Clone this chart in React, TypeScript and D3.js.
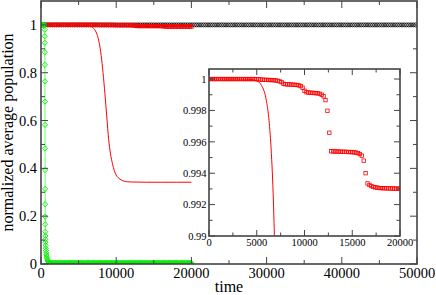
import React from 'react';
import * as d3 from 'd3';

// ---------- data ----------
const mainXTicks = [0, 10000, 20000, 30000, 40000, 50000];
const mainXMinor = [5000, 15000, 25000, 35000, 45000];
const mainYTicks = [0, 0.2, 0.4, 0.6, 0.8, 1];
const mainYLabels = ['0', '0.2', '0.4', '0.6', '0.8', '1'];
const mainYMinor = [0.1, 0.3, 0.5, 0.7, 0.9];
const insetXTicks = [0, 5000, 10000, 15000, 20000];
const insetXMinor = [2500, 7500, 12500, 17500];
const insetYTicks = [0.99, 0.992, 0.994, 0.996, 0.998, 1];
const insetYLabels = ['0.99', '0.992', '0.994', '0.996', '0.998', '1'];
const insetYMinor = [0.991, 0.993, 0.995, 0.997, 0.999];

// black circles: population stays at 1 over the whole run
const blackTimes = d3.range(0, 50001, 300);
const blackValue = 1;

// red line (smooth drop)
const redLineT = [0, 2000, 4000, 5000, 5500, 6000, 6250, 6500, 6750, 7000, 7250, 7500, 7750, 8000, 8250, 8500, 8750, 9000, 9250, 9500, 9750, 10000, 10500, 11000, 11500, 12000, 14000, 16000, 18000, 20000];
const redLineV = [1, 1, 0.99999, 0.99988, 0.99959, 0.99865, 0.99757, 0.9956, 0.9921, 0.9857, 0.9746, 0.9553, 0.9233, 0.8728, 0.8006, 0.712, 0.615, 0.52, 0.46, 0.42, 0.39, 0.372, 0.355, 0.347, 0.344, 0.343, 0.342, 0.342, 0.342, 0.342];

// red squares, every 200 time units from 0 to 20000
const redSqT = d3.range(0, 20001, 200);
const redSqV = [
  1, 1, 1, 1, 1, 1, 1, 1, 1, 1, 1, 1, 1, 1, 1, 1, 1, 1, 1, 1, 1, 1, 1, 1, 1,
  0.99999, 0.99998, 0.99997, 0.99996, 0.99995, 0.99995, 0.99994, 0.99994, 0.99993, 0.99993,
  0.99991, 0.99989, 0.99985, 0.9998, 0.9997, 0.99967, 0.99966, 0.99966, 0.99965, 0.99964,
  0.99963, 0.99962, 0.9996, 0.99955, 0.99945, 0.99925, 0.99916, 0.99914, 0.99913, 0.99912,
  0.99911, 0.9991, 0.99909, 0.99906, 0.999, 0.9989, 0.99866, 0.99798, 0.99658, 0.9954,
  0.99539, 0.99539, 0.99538, 0.99538, 0.99537, 0.99537, 0.99536, 0.99536, 0.99535, 0.99535,
  0.99534, 0.99533, 0.99531, 0.99528, 0.99522, 0.99512, 0.9948, 0.994, 0.99335, 0.99325,
  0.99318, 0.99313, 0.9931, 0.99308, 0.99306, 0.99305, 0.99305, 0.99304, 0.99304, 0.99303,
  0.99303, 0.99303, 0.99302, 0.99302, 0.99302, 0.99302,
];

// green diamonds: fast collapse
const greenHeadT = [0, 100, 200, 300, 400, 480, 500, 505, 510, 515, 520, 525, 530, 535, 540, 545, 550, 555, 560, 565, 570, 580, 590, 600, 620, 640, 660, 690, 720, 760, 800, 850, 900, 950];
const greenHeadV = [1, 1, 1, 1, 1, 1, 0.98, 0.953, 0.925, 0.886, 0.833, 0.764, 0.679, 0.582, 0.484, 0.393, 0.314, 0.25, 0.198, 0.166, 0.135, 0.117, 0.103, 0.091, 0.078, 0.066, 0.056, 0.046, 0.038, 0.03, 0.024, 0.018, 0.013, 0.009];
const greenTailT = d3.range(1000, 20001, 100);
const greenTailValue = 0.004;

// ---------- layout ----------
const W = 436, H = 295;
const M = { left: 41, right: 417, top: 1, bottom: 264 };
const IN = { left: 209, right: 400, top: 69, bottom: 236 };
const FONT = "'Liberation Serif', 'Times New Roman', serif";
const AX = '#444';
const ts = (size: number) => ({ fontFamily: FONT, fontSize: size + 'px', fill: '#000' });

export default function App() {
  const x = d3.scaleLinear().domain([0, 50000]).range([M.left, M.right]);
  const y = d3.scaleLinear().domain([0, 1.1]).range([M.bottom, M.top]);
  const xi = d3.scaleLinear().domain([0, 20000]).range([IN.left, IN.right]);
  const yi = d3.scaleLinear().domain([0.99, 1.00064]).range([IN.bottom, IN.top]);

  const greenT = [...greenHeadT, ...greenTailT];
  const greenV = [...greenHeadV, ...greenTailT.map(() => greenTailValue)];

  const lineMain = d3.line<number>().x((_, i) => x(redLineT[i])).y((d) => y(d)).curve(d3.curveMonotoneX);
  const lineInset = d3.line<number>().x((_, i) => xi(redLineT[i])).y((d) => yi(d)).curve(d3.curveMonotoneX);
  const greenLine = d3.line<number>().x((_, i) => x(greenT[i])).y((d) => y(d));

  const sq = 3.4;
  const dia = 2.6;
  const diamond = (cx: number, cy: number) => `M${cx},${cy - dia}L${cx + dia},${cy}L${cx},${cy + dia}L${cx - dia},${cy}Z`;

  return (
    <svg width={W} height={H} style={{ position: 'absolute', left: 0, top: 0, background: '#fff' }}>
      <defs>
        <clipPath id="mainClip"><rect x={M.left} y={M.top} width={M.right - M.left} height={M.bottom - M.top} /></clipPath>
        <clipPath id="insetClip"><rect x={IN.left} y={IN.top} width={IN.right - IN.left} height={IN.bottom - IN.top} /></clipPath>
      </defs>
      <rect x={0} y={0} width={W} height={H} fill="#fff" />

      {/* main data */}
      <g clipPath="url(#mainClip)">
        {blackTimes.map((t, i) => (
          <circle key={'b' + i} cx={x(t)} cy={y(blackValue)} r={2} fill="none" stroke="#000" strokeWidth={0.8} />
        ))}
        {redSqT.map((t, i) => (
          <rect key={'r' + i} x={x(t) - sq / 2} y={y(redSqV[i]) - sq / 2} width={sq} height={sq} fill="none" stroke="#ff0000" strokeWidth={0.8} />
        ))}
        <path d={lineMain(redLineV) || ''} fill="none" stroke="#ff0000" strokeWidth={1} />
        <path d={greenLine(greenV) || ''} fill="none" stroke="#66ff66" strokeWidth={1} />
        {greenT.map((t, i) => (
          <path key={'g' + i} d={diamond(x(t), y(greenV[i]))} fill="none" stroke="#00ee00" strokeWidth={0.9} />
        ))}
      </g>

      {/* main frame and ticks */}
      <rect x={M.left} y={M.top} width={M.right - M.left} height={M.bottom - M.top} fill="none" stroke={AX} strokeWidth={1.6} />
      {mainXTicks.map((t) => (
        <g key={'mxt' + t}>
          <line x1={x(t)} x2={x(t)} y1={M.bottom} y2={M.bottom - 7} stroke={AX} strokeWidth={1} />
          <line x1={x(t)} x2={x(t)} y1={M.top} y2={M.top + 7} stroke={AX} strokeWidth={1} />
          <text x={x(t)} y={278} style={ts(14.5)} textAnchor="middle">{String(t)}</text>
        </g>
      ))}
      {mainXMinor.map((t) => (
        <g key={'mxm' + t}>
          <line x1={x(t)} x2={x(t)} y1={M.bottom} y2={M.bottom - 4} stroke={AX} strokeWidth={1} />
          <line x1={x(t)} x2={x(t)} y1={M.top} y2={M.top + 4} stroke={AX} strokeWidth={1} />
        </g>
      ))}
      {mainYTicks.map((v, i) => (
        <g key={'myt' + v}>
          <line x1={M.left} x2={M.left + 7} y1={y(v)} y2={y(v)} stroke={AX} strokeWidth={1} />
          <line x1={M.right} x2={M.right - 7} y1={y(v)} y2={y(v)} stroke={AX} strokeWidth={1} />
          <text x={37} y={y(v)} dy="0.35em" style={ts(14.5)} textAnchor="end">{mainYLabels[i]}</text>
        </g>
      ))}
      {mainYMinor.map((v) => (
        <g key={'mym' + v}>
          <line x1={M.left} x2={M.left + 4} y1={y(v)} y2={y(v)} stroke={AX} strokeWidth={1} />
          <line x1={M.right} x2={M.right - 4} y1={y(v)} y2={y(v)} stroke={AX} strokeWidth={1} />
        </g>
      ))}
      <text x={(M.left + M.right) / 2} y={292} style={ts(16)} textAnchor="middle">time</text>
      <text transform={`translate(13,${(M.top + M.bottom) / 2}) rotate(-90)`} style={ts(16)} textAnchor="middle">normalized average population</text>

      {/* inset */}
      <rect x={IN.left} y={IN.top} width={IN.right - IN.left} height={IN.bottom - IN.top} fill="#fff" />
      <g clipPath="url(#insetClip)">
        {redSqT.map((t, i) => (
          <rect key={'ri' + i} x={xi(t) - sq / 2} y={yi(redSqV[i]) - sq / 2} width={sq} height={sq} fill="none" stroke="#ff0000" strokeWidth={0.8} />
        ))}
        <path d={lineInset(redLineV) || ''} fill="none" stroke="#ff0000" strokeWidth={1} />
      </g>
      <rect x={IN.left} y={IN.top} width={IN.right - IN.left} height={IN.bottom - IN.top} fill="none" stroke={AX} strokeWidth={1.6} />
      {insetXTicks.map((t) => (
        <g key={'ixt' + t}>
          <line x1={xi(t)} x2={xi(t)} y1={IN.bottom} y2={IN.bottom - 6} stroke={AX} strokeWidth={1} />
          <line x1={xi(t)} x2={xi(t)} y1={IN.top} y2={IN.top + 6} stroke={AX} strokeWidth={1} />
          <text x={xi(t)} y={246} style={ts(10.5)} textAnchor="middle">{String(t)}</text>
        </g>
      ))}
      {insetXMinor.map((t) => (
        <g key={'ixm' + t}>
          <line x1={xi(t)} x2={xi(t)} y1={IN.bottom} y2={IN.bottom - 3.5} stroke={AX} strokeWidth={1} />
          <line x1={xi(t)} x2={xi(t)} y1={IN.top} y2={IN.top + 3.5} stroke={AX} strokeWidth={1} />
        </g>
      ))}
      {insetYTicks.map((v, i) => (
        <g key={'iyt' + v}>
          <line x1={IN.left} x2={IN.left + 6} y1={yi(v)} y2={yi(v)} stroke={AX} strokeWidth={1} />
          <line x1={IN.right} x2={IN.right - 6} y1={yi(v)} y2={yi(v)} stroke={AX} strokeWidth={1} />
          <text x={206.5} y={yi(v)} dy="0.35em" style={ts(10.5)} textAnchor="end">{insetYLabels[i]}</text>
        </g>
      ))}
      {insetYMinor.map((v) => (
        <g key={'iym' + v}>
          <line x1={IN.left} x2={IN.left + 3.5} y1={yi(v)} y2={yi(v)} stroke={AX} strokeWidth={1} />
          <line x1={IN.right} x2={IN.right - 3.5} y1={yi(v)} y2={yi(v)} stroke={AX} strokeWidth={1} />
        </g>
      ))}
    </svg>
  );
}
